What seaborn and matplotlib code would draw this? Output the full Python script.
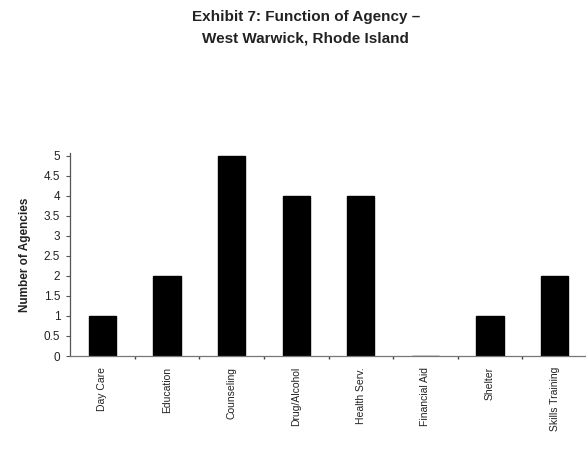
import matplotlib
matplotlib.use("Agg")
import matplotlib.pyplot as plt
import seaborn as sns
import pandas as pd
from matplotlib.ticker import FixedLocator

categories = ["Day Care", "Education", "Counseling", "Drug/Alcohol",
              "Health Serv.", "Financial Aid", "Shelter", "Skills Training"]
agencies = [1, 2, 5, 4, 4, 0, 1, 2]
y_ticks = [0, 0.5, 1, 1.5, 2, 2.5, 3, 3.5, 4, 4.5, 5]
y_tick_labels = ["0", "0.5", "1", "1.5", "2", "2.5", "3", "3.5", "4", "4.5", "5"]

df = pd.DataFrame({"Function": categories, "Agencies": agencies})

sns.set_theme(style="white")
plt.rcParams["font.family"] = ["Liberation Sans", "DejaVu Sans"]

fig = plt.figure(figsize=(5.86, 4.61), dpi=100)
ax = fig.add_axes([70 / 586, 105 / 461, 517 / 586, 203 / 461])

sns.barplot(data=df, x="Function", y="Agencies", color="black",
            width=0.42, ax=ax, saturation=1, edgecolor="black")

ax.set_xlim(-0.5, len(categories) - 0.5)
ax.set_ylim(0, 5.07)
ax.set_yticks(y_ticks)
ax.set_yticklabels(y_tick_labels, fontsize=8.5, color="#222222")
ax.set_xticks(range(len(categories)))
ax.set_xticklabels(categories, rotation=90, fontsize=7.5, color="#222222")
ax.tick_params(axis="x", length=0, pad=8)
ax.tick_params(axis="y", length=3, width=0.8, color="#555555", left=True, pad=4)
ax.xaxis.set_minor_locator(FixedLocator([i + 0.5 for i in range(len(categories) - 1)]))
ax.tick_params(axis="x", which="minor", length=2, width=1, color="#444444", bottom=True)

for side in ["top", "right"]:
    ax.spines[side].set_visible(False)
ax.spines["left"].set_color("#555555")
ax.spines["left"].set_linewidth(0.9)
ax.spines["bottom"].set_color("#777777")
ax.spines["bottom"].set_linewidth(0.9)

ax.set_xlabel("")
ax.set_ylabel("Number of Agencies", fontsize=8.5, fontweight="bold", color="#222222", labelpad=9)

fig.text(0.522, 0.963, "Exhibit 7: Function of Agency \u2013", ha="center", va="center",
         fontsize=11, fontweight="bold", color="#222222")
fig.text(0.522, 0.917, "West Warwick, Rhode Island", ha="center", va="center",
         fontsize=11, fontweight="bold", color="#222222")

fig.savefig("out.png", dpi=100, facecolor="white")
